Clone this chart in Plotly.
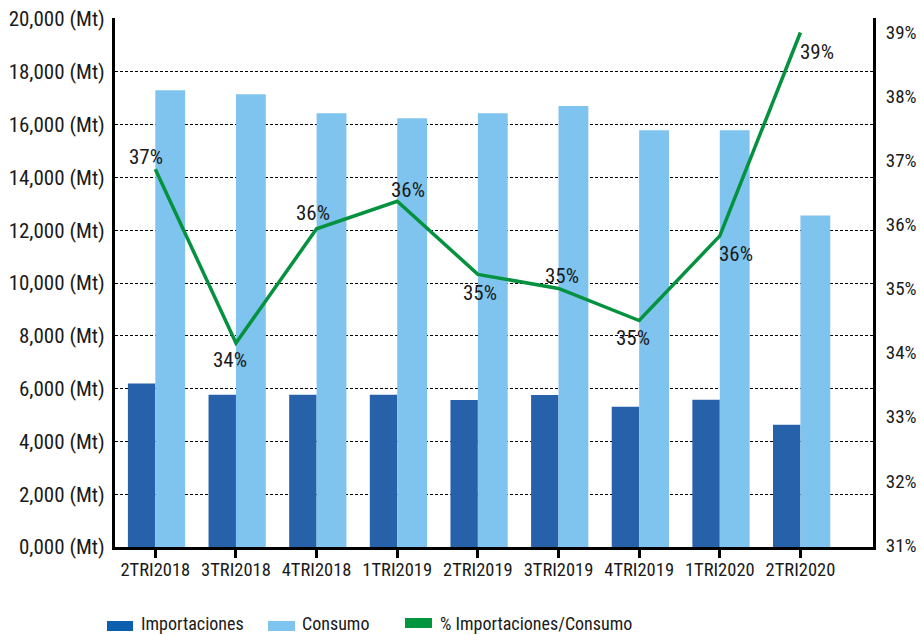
import plotly.graph_objects as go

# ---------------- data ----------------
categories = ["2TRI2018", "3TRI2018", "4TRI2018", "1TRI2019", "2TRI2019",
              "3TRI2019", "4TRI2019", "1TRI2020", "2TRI2020"]
importaciones = [6190, 5770, 5770, 5770, 5570, 5760, 5310, 5580, 4630]
consumo = [17300, 17150, 16430, 16240, 16430, 16700, 15790, 15790, 12560]
pct_imp_cons = [36.86, 34.15, 35.93, 36.36, 35.22, 35.0, 34.5, 35.82, 38.99]

left_tickvals = [0, 2000, 4000, 6000, 8000, 10000, 12000, 14000, 16000, 18000, 20000]
left_ticktext = ["0,000 (Mt)", "2,000 (Mt)", "4,000 (Mt)", "6,000 (Mt)", "8,000 (Mt)",
                 "10,000 (Mt)", "12,000 (Mt)", "14,000 (Mt)", "16,000 (Mt)",
                 "18,000 (Mt)", "20,000 (Mt)"]
right_tickvals = [31, 32, 33, 34, 35, 36, 37, 38, 39]
right_ticktext = ["31%", "32%", "33%", "34%", "35%", "36%", "37%", "38%", "39%"]

series_names = ["Importaciones", "Consumo", "% Importaciones/Consumo"]

# ---------------- style ----------------
FONT = "Noto Sans Condensed, Roboto Condensed, Roboto, sans-serif"
TXT = "#1a1a1a"
C_IMP = "#2661A9"
C_CON = "#7FC4EE"
C_PCT = "#05923F"
LEG_COLORS = ["#0C5FAE", "#7FC4EE", "#00953F"]

FW, FH = 920, 635

# label offsets (px) for the percentage labels
lbl_shift = [(-9, 12), (-6, -17), (-4, 16), (11, 11), (2, -19),
             (3, 12), (-6, -17), (16, -18), (17, -19)]

fig = go.Figure()
fig.add_trace(go.Bar(x=categories, y=importaciones, name=series_names[0],
                     marker=dict(color=C_IMP, line=dict(width=0)),
                     offset=-0.34, width=0.34, showlegend=False))
fig.add_trace(go.Bar(x=categories, y=consumo, name=series_names[1],
                     marker=dict(color=C_CON, line=dict(width=0)),
                     offset=0, width=0.37, showlegend=False))
fig.add_trace(go.Scatter(x=categories, y=pct_imp_cons, name=series_names[2],
                         yaxis="y2", mode="lines",
                         line=dict(color=C_PCT, width=3.5), showlegend=False))

annotations = []
for c, v, (dx, dy) in zip(categories, pct_imp_cons, lbl_shift):
    annotations.append(dict(x=c, y=v, yref="y2", xref="x", text=f"{int(v + 0.5)}%",
                            showarrow=False, xshift=dx, yshift=dy,
                            font=dict(family=FONT, size=21, color=TXT)))

# plot area in pixels
PL, PR, PT, PB = 115, 873, 18, 547
W, H = PR - PL, PB - PT
def px(x):
    return (x - PL) / W
def py(y):
    return (PB - y) / H

leg_items = [  # (x0, x1, y0, y1, text_x) in pixels
    (107, 133, 621, 631, 139),
    (268, 295, 621, 631, 300),
    (405, 432, 618, 628, 438),
]
shapes = []
for (x0, x1, y0, y1, tx), name, col in zip(leg_items, series_names, LEG_COLORS):
    shapes.append(dict(type="rect", xref="paper", yref="paper",
                       x0=px(x0), x1=px(x1), y0=py(y1), y1=py(y0),
                       fillcolor=col, line=dict(width=0)))
    annotations.append(dict(x=px(tx), y=py(623), xref="paper", yref="paper",
                            xanchor="left", yanchor="middle", showarrow=False,
                            text=name, font=dict(family=FONT, size=18, color=TXT)))

fig.update_layout(
    width=FW, height=FH,
    margin=dict(l=PL, r=FW - PR, t=PT, b=FH - PB, pad=0),
    paper_bgcolor="white", plot_bgcolor="white",
    barmode="overlay",
    font=dict(family=FONT, size=19, color=TXT),
    xaxis=dict(type="category", range=[-0.5, 8.9], showgrid=False, automargin=False,
               showline=True, linecolor="black", linewidth=2.5, tickangle=0,
               ticks="outside", ticklen=8, tickwidth=2.5, tickcolor="black",
               ticklabelstandoff=-4,
               tickfont=dict(family=FONT, size=18.5, color=TXT)),
    yaxis=dict(range=[0, 20038], tickvals=left_tickvals, ticktext=left_ticktext,
               automargin=False, ticklabeloverflow="allow",
               showgrid=True, gridcolor="black", gridwidth=1, griddash="3px,2px",
               zeroline=False, showline=True, linecolor="black", linewidth=3,
               ticks="", ticklabelstandoff=3,
               tickfont=dict(family=FONT, size=21, color=TXT)),
    yaxis2=dict(overlaying="y", side="right", range=[30.97, 39.216], automargin=False,
                ticklabeloverflow="allow",
                tickvals=right_tickvals, ticktext=right_ticktext, showgrid=False,
                zeroline=False, showline=True, linecolor="black", linewidth=3,
                ticks="", ticklabelstandoff=6,
                tickfont=dict(family=FONT, size=19, color=TXT)),
    annotations=annotations,
    shapes=shapes,
)

fig.write_html("out.html",
               config={"displayModeBar": False},
               post_script="document.body.style.margin='0';"
                           "document.body.style.overflow='hidden';")
